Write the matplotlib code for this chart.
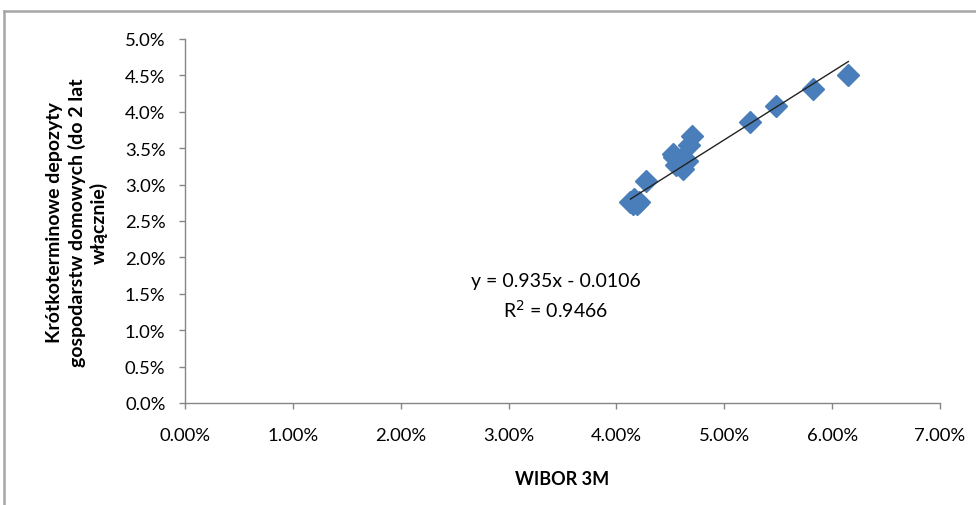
import matplotlib
matplotlib.use("Agg")
import matplotlib.pyplot as plt
from matplotlib.lines import Line2D
from matplotlib.ticker import FuncFormatter, MultipleLocator
import numpy as np

# WIBOR 3M vs krótkoterminowe depozyty (w %)
wibor = [4.13, 4.15, 4.17, 4.19, 4.21, 4.16, 4.27, 4.52, 4.53, 4.55, 4.58,
         4.62, 4.60, 4.65, 4.67, 4.70, 5.24, 5.48, 5.82, 6.15]
depozyty = [2.76, 2.74, 2.78, 2.73, 2.76, 2.80, 3.05, 3.42, 3.38, 3.27, 3.30,
            3.22, 3.35, 3.33, 3.55, 3.67, 3.86, 4.08, 4.32, 4.51]

# linia trendu z równania regresji
slope = 0.935
intercept = -0.0106
r2 = 0.9466

plt.rcParams['font.family'] = ['Lato', 'DejaVu Sans']
grey = '#868686'

fig = plt.figure(figsize=(9.76, 5.06), dpi=100)
ax = fig.add_axes([185 / 976, 1 - 404 / 506, 755 / 976, 364 / 506])

x = np.array(wibor) / 100
y = np.array(depozyty) / 100
ax.plot(x, y, linestyle='none', marker='D', ms=11, color='#4A7EBB',
        markeredgecolor='#4A7EBB')

xt = np.array([x.min(), x.max()])
ax.plot(xt, slope * xt + intercept, color='#222222', lw=1.0)

ax.set_xlim(0, 0.07)
ax.set_ylim(0, 0.05)
ax.xaxis.set_major_locator(MultipleLocator(0.01))
ax.yaxis.set_major_locator(MultipleLocator(0.005))
ax.xaxis.set_major_formatter(FuncFormatter(lambda v, p: f"{v * 100:.2f}%"))
ax.yaxis.set_major_formatter(FuncFormatter(lambda v, p: f"{v * 100:.1f}%"))

for s in ['top', 'right']:
    ax.spines[s].set_visible(False)
for s in ['left', 'bottom']:
    ax.spines[s].set_color(grey)
    ax.spines[s].set_linewidth(1.0)
ax.tick_params(axis='both', colors=grey, labelcolor='black', length=4,
               width=1.0, labelsize=13.3)
ax.tick_params(axis='x', pad=13)
ax.tick_params(axis='y', pad=10)

fig.text(562 / 976, 1 - 480 / 506, 'WIBOR 3M', fontsize=13, fontweight='bold',
         ha='center', va='center')
fig.text(77 / 976, 1 - 223 / 506,
         'Krótkoterminowe depozyty\ngospodarstw domowych (do 2 lat\nwłącznie)',
         fontsize=14, fontweight='bold', rotation=90, ha='center',
         va='center', linespacing=1.3)

ax.text(0.0344, 0.0147, f"y = {slope}x - {abs(intercept)}\nR$^2$ = {r2}",
        ha='center', va='center', fontsize=14, linespacing=1.45)

# ramka wykresu
fig.add_artist(Line2D([4 / 976, 1], [1 - 12 / 506] * 2, color='#A6A6A6', lw=1.8))
fig.add_artist(Line2D([4 / 976] * 2, [0, 1 - 12 / 506], color='#A6A6A6', lw=1.8))

fig.savefig('out.png', dpi=100)
